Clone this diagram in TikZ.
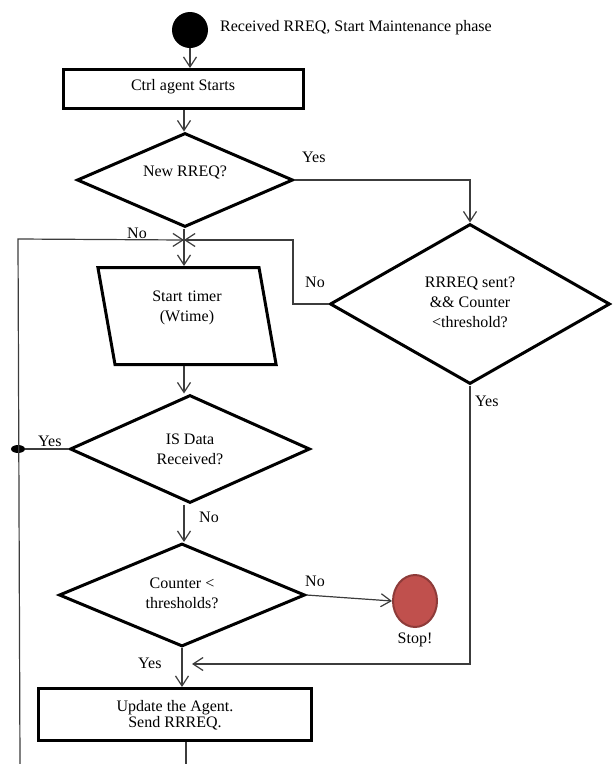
\documentclass[tikz,border=0pt]{standalone}
\usepackage{fontspec}
\setmainfont{Liberation Serif}
\usepackage{xcolor}
\usepackage{tikz}
\usetikzlibrary{shapes.geometric, arrows.meta, positioning, calc}
\definecolor{linegray}{HTML}{3C3C3C}
\definecolor{stopred}{HTML}{C0504D}
\definecolor{stopedge}{HTML}{8E3B39}
\tikzstyle{process} = [rectangle, draw, line width=3pt, text height=11pt, align=center]
\tikzstyle{decision} = [diamond, draw, line width=3pt, inner sep=0pt, text height=11pt, align=center]
\tikzstyle{io} = [trapezium, trapezium left angle=100, trapezium right angle=80, draw, line width=3pt, inner sep=0pt, align=center]
\tikzstyle{line} = [draw=linegray, line width=1.2pt, -{Straight Barb[length=10pt,width=13pt]}]
\tikzstyle{wire} = [draw=linegray, line width=1.2pt]
\tikzstyle{lbl} = [anchor=base west, inner sep=0pt]

\begin{document}
\begin{tikzpicture}[x=1pt, y=-1pt, font=\fontsize{16}{20}\selectfont]
    \useasboundingbox (0,0) rectangle (613,764);

    \node (start) [circle, fill=black, minimum size=36pt, inner sep=0pt] at (190,30) {};
    \node (startlbl) [lbl] at (220,31) {Received RREQ, Start Maintenance phase};

    \node (ctrl) [process, minimum width=240pt, minimum height=39pt, text depth=9pt] at (183,89) {Ctrl agent Starts};
    \node (newreq) [decision, aspect=2.3, minimum width=216pt, minimum height=94pt, text depth=19pt] at (185,180) {New RREQ?};
    \node (timer) [io, text width=144pt, text height=33.5pt, text depth=63.5pt] at (187,316) {Start timer\\(Wtime)};
    \node (isdata) [decision, aspect=2.2, minimum width=240pt, minimum height=108pt, text height=30pt, text depth=0pt] at (190,449) {IS Data\\Received?};
    \node (counter) [decision, aspect=2.4, minimum width=246pt, minimum height=103pt, text height=26pt, text depth=0pt] at (182,595) {Counter <\\thresholds?};
    \node (update) [process, minimum width=273pt, minimum height=52pt, text height=25pt, text depth=0pt] at (175,714.5) {Update the Agent.\\[-4pt]Send RRREQ.};
    \node (rrreq) [decision, aspect=1.75, minimum width=280pt, minimum height=160pt, text height=46pt, text depth=0pt] at (470,304) {RRREQ sent?\\\&\& Counter\\<threshold?};

    \node (stop) [ellipse, draw=stopedge, fill=stopred, line width=2pt, minimum width=44pt, minimum height=52pt, inner sep=0pt] at (415,601) {};
    \node (stoplbl) [below=5pt of stop, inner sep=0pt] {Stop!};
    \node (junc) [ellipse, fill=black, minimum width=14pt, minimum height=8pt, inner sep=0pt] at (18,449) {};

    \coordinate (merge) at (184,240);
    \coordinate (lbend) at (18,239);
    \coordinate (loopfoot) at (20,764);
    \coordinate (rbend) at (293,240);
    \coordinate (backtip) at (192,664);
    \coordinate (updfoot) at (186,764);

    % main column
    \draw[line] (start) -- (start |- ctrl.north);
    \draw[line] (ctrl.south -| merge) -- (merge |- newreq.north);
    \draw[wire] (newreq.south -| merge) -- (merge);
    \draw[line] (merge) -- (merge |- timer.north);
    \draw[line] (merge |- timer.south) -- (merge |- isdata.north);
    \draw[line] (merge |- isdata.south) -- (merge |- counter.north);
    \draw[line] (counter.south) -- (counter.south |- update.north);
    \draw[wire] (update.south -| updfoot) -- (updfoot);

    % branches and loops
    \draw[line] (newreq.east) -| (rrreq.north);
    \draw[line] (rrreq.west) -| (rbend) -- (merge);
    \draw[line] (rrreq.south) |- (backtip);
    \draw[line] (loopfoot) -- (lbend) -- (merge);
    \draw[wire] (isdata.west) -- (junc);
    \draw[line] (counter.east) -- (stop.west);

    \node (yes1) [lbl] at (302,162) {Yes};
    \node (no1) [lbl] at (127,238) {No};
    \node (no2) [lbl] at (305,287) {No};
    \node (yes2) [lbl] at (475,406) {Yes};
    \node (yes3) [lbl] at (38,446) {Yes};
    \node (no3) [lbl] at (199,522) {No};
    \node (no4) [lbl] at (305,586) {No};
    \node (yes4) [lbl] at (138,668) {Yes};
\end{tikzpicture}
\end{document}
